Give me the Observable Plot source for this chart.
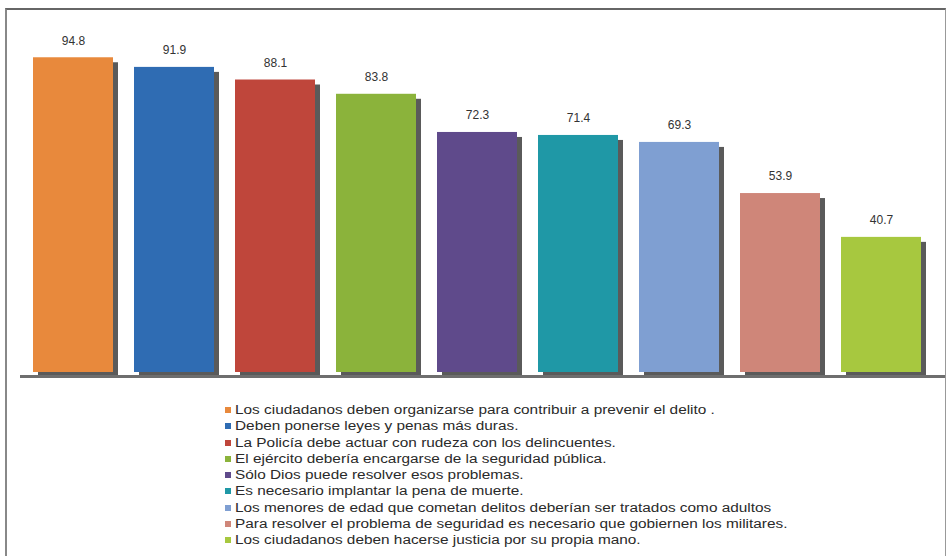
<!DOCTYPE html>
<html>
<head>
<meta charset="utf-8">
<script src="https://cdn.jsdelivr.net/npm/d3@7"></script>
<script src="https://cdn.jsdelivr.net/npm/@observablehq/plot@0.6"></script>
<style>
  html, body { margin: 0; padding: 0; background: #fff; }
  body { width: 951px; height: 556px; overflow: hidden; position: relative; font-family: "Liberation Sans", Arial, sans-serif; }
  #frame { position: absolute; left: 5px; top: 8px; width: 941px; height: 560px; border-left: 2px solid #888; border-right: 1px solid #999; border-top: 2px solid #666; box-sizing: border-box; }
  #chart { position: absolute; left: 0; top: 0; }
  #legend { position: absolute; left: 225px; top: 402px; font-size: 12px; color: #2a2a2a; }
  #legend .row { white-space: nowrap; height: 16.3px; line-height: 16.3px; }
  #legend .sw { display: inline-block; width: 6px; height: 6px; margin-right: 4px; vertical-align: 1px; }
  #legend .tx { display: inline-block; transform: scaleX(1.28); transform-origin: left center; }
</style>
</head>
<body>
<div id="frame"></div>
<div id="chart"></div>
<div id="legend"></div>
<script>
const categories = [
  "Los ciudadanos deben organizarse para contribuir a prevenir el delito .",
  "Deben ponerse leyes y penas más duras.",
  "La Policía debe actuar con rudeza con los delincuentes.",
  "El ejército debería encargarse de la seguridad pública.",
  "Sólo Dios puede resolver esos problemas.",
  "Es necesario implantar la pena de muerte.",
  "Los menores de edad que cometan delitos deberían ser tratados como adultos",
  "Para resolver el problema de seguridad es necesario que gobiernen los militares.",
  "Los ciudadanos deben hacerse justicia por su propia mano."
];
const values = [94.8, 91.9, 88.1, 83.8, 72.3, 71.4, 69.3, 53.9, 40.7];
const colors = ["#e8893c", "#2f6cb3", "#bf463b", "#8bb33b", "#5f4a8b", "#1f98a6", "#7f9fd2", "#cf8679", "#a7c83f"];

const data = categories.map((c, i) => ({category: c, value: values[i]}));

const chart = Plot.plot({
  width: 951,
  height: 380,
  marginLeft: 20,
  marginRight: 6,
  marginTop: 40,
  marginBottom: 8,
  x: {domain: categories, paddingInner: 0.211, paddingOuter: 0.1665, align: 0.355, axis: null},
  y: {domain: [0, 100], axis: null},
  color: {domain: categories, range: colors},
  marks: [
    Plot.barY(data, {x: "category", y: "value", fill: "#5a5a5a", dx: 5, dy: 5}),
    Plot.barY(data, {x: "category", y: "value", fill: "category"}),
    Plot.ruleY([0], {stroke: "#6e6e6e", strokeWidth: 3, dy: 4}),
    Plot.text(data, {x: "category", y: "value", text: d => d.value.toFixed(1), dy: -17, fontSize: 12, fill: "#333", fontFamily: "Liberation Sans, Arial, sans-serif"})
  ]
});
document.getElementById("chart").appendChild(chart);

const legend = document.getElementById("legend");
categories.forEach((c, i) => {
  const row = document.createElement("div");
  row.className = "row";
  const sw = document.createElement("span");
  sw.className = "sw";
  sw.style.background = colors[i];
  row.appendChild(sw);
  const tx = document.createElement("span");
  tx.className = "tx";
  tx.textContent = c;
  row.appendChild(tx);
  legend.appendChild(row);
});
</script>
</body>
</html>
